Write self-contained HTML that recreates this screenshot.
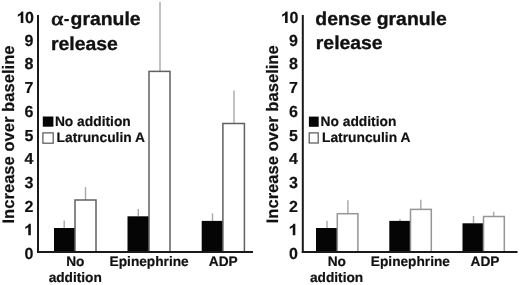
<!DOCTYPE html>
<html><head><meta charset="utf-8">
<style>
html,body{margin:0;padding:0;background:#fff;width:520px;height:285px;overflow:hidden}
svg{display:block;will-change:transform;text-rendering:geometricPrecision}
text{font-family:"Liberation Sans",sans-serif;font-weight:bold;fill:#111;stroke:#111;stroke-width:0.2px}
.tk{font-size:16px;text-anchor:end}
.ti{font-size:19.4px;stroke:#111;stroke-width:0.35px}
.yl{font-size:16.6px;text-anchor:middle}
.lg{font-size:13.8px}
.xl{font-size:13.7px;text-anchor:middle}
.ax{fill:#1a1a1a}
.bk{fill:#050505}
.wh{fill:#fff;stroke:#606060;stroke-width:1.5}
.wh2{stroke:#959595}
.er{stroke:#a8a8a8;stroke-width:1.4}
.er2{stroke:#a8a8a8}
.al{font-family:"Liberation Serif",serif;font-weight:normal;stroke:#111;stroke-width:0.8px}
</style></head>
<body>
<svg width="520" height="285" viewBox="0 0 520 285">
<defs><path id="one" d="M0.395 0L0.395 0.716L0.280 0.716C0.245 0.630 0.160 0.570 0.050 0.530L0.050 0.390C0.130 0.420 0.190 0.455 0.235 0.490L0.235 0Z" fill="#111"/></defs>
<!-- LEFT PANEL -->
<g>
<text class="yl" transform="translate(14,134.5) rotate(-90)">Increase over baseline</text>
<use href="#one" transform="translate(17,22.9) scale(16,-16)"/><text class="tk" x="33.9" y="22.9">0</text>
<text class="tk" x="33.4" y="45.7">9</text>
<text class="tk" x="33.4" y="69.4">8</text>
<text class="tk" x="33.4" y="93.1">7</text>
<text class="tk" x="33.4" y="116.8">6</text>
<text class="tk" x="33.4" y="140.5">5</text>
<text class="tk" x="33.4" y="164.2">4</text>
<text class="tk" x="33.4" y="187.8">3</text>
<text class="tk" x="33.4" y="211.5">2</text>
<use href="#one" transform="translate(24.5,235.2) scale(16,-16)"/>
<text class="tk" x="33.4" y="258.9">0</text>
<g transform="translate(51.2,25) scale(1.1,0.92)"><text class="al" x="0" y="0" style="font-size:21px">α</text></g>
<rect x="64.3" y="19.0" width="4.5" height="2.2" fill="#111"/>
<g transform="translate(0,24.9) scale(1,0.96)"><text class="ti" x="70.6" y="0">granule</text></g>
<g transform="translate(0,50) scale(1,0.96)"><text class="ti" x="51" y="0">release</text></g>
<rect class="bk" x="42.8" y="116.5" width="10.6" height="10.2"/>
<rect x="42.9" y="132.9" width="10.3" height="10.3" fill="#fff" stroke="#555" stroke-width="1.2"/>
<text class="lg" x="54.9" y="126.3">No addition</text>
<text class="lg" x="56.6" y="142">Latrunculin A</text>
<!-- bars -->
<line class="er" x1="64.2" y1="228" x2="64.2" y2="220.6"/>
<rect class="bk" x="54" y="228" width="21" height="24"/>
<line class="er" x1="85.5" y1="200" x2="85.5" y2="187"/>
<rect class="wh" x="75" y="200" width="21" height="52"/>
<line class="er" x1="138.3" y1="216.3" x2="138.3" y2="209"/>
<rect class="bk" x="127.5" y="216.3" width="21.5" height="35.7"/>
<line class="er" x1="160" y1="71.4" x2="160" y2="1.7"/>
<rect class="wh" x="149" y="71.4" width="21" height="180.6"/>
<line class="er" x1="212.5" y1="221" x2="212.5" y2="213.3"/>
<rect class="bk" x="201.7" y="220.9" width="21.3" height="31.1"/>
<line class="er" x1="234" y1="123.5" x2="234" y2="90.5"/>
<rect class="wh" x="222.9" y="123.5" width="21.5" height="128.5"/>
<!-- axes -->
<rect class="ax" x="37" y="15" width="2" height="238"/>
<rect class="ax" x="37" y="251" width="216" height="2"/>
<text class="xl" x="75.25" y="265.7">No</text>
<text class="xl" x="75.25" y="282.3">addition</text>
<text class="xl" x="149.15" y="265.6">Epinephrine</text>
<text class="xl" x="223.3" y="266.2">ADP</text>
</g>
<!-- RIGHT PANEL -->
<g>
<text class="yl" transform="translate(277.8,134.3) rotate(-90)">Increase over baseline</text>
<use href="#one" transform="translate(281.3,22.9) scale(16,-16)"/><text class="tk" x="298.4" y="22.9">0</text>
<text class="tk" x="297.9" y="45.7">9</text>
<text class="tk" x="297.9" y="69.4">8</text>
<text class="tk" x="297.9" y="93.1">7</text>
<text class="tk" x="297.9" y="116.8">6</text>
<text class="tk" x="297.9" y="140.5">5</text>
<text class="tk" x="297.9" y="164.2">4</text>
<text class="tk" x="297.9" y="187.8">3</text>
<text class="tk" x="297.9" y="211.5">2</text>
<use href="#one" transform="translate(289,235.2) scale(16,-16)"/>
<text class="tk" x="297.9" y="258.9">0</text>
<g transform="translate(0,25.4) scale(1,0.96)"><text class="ti" x="315.3" y="0">dense granule</text></g>
<g transform="translate(0,48.9) scale(1,0.96)"><text class="ti" x="315.8" y="0">release</text></g>
<rect class="bk" x="308.9" y="116.6" width="9.8" height="10.2"/>
<rect x="309.2" y="132.9" width="9" height="10.1" fill="#fff" stroke="#555" stroke-width="1.2"/>
<text class="lg" x="320.5" y="126.3">No addition</text>
<text class="lg" x="322" y="142">Latrunculin A</text>
<!-- bars -->
<line class="er" x1="327" y1="228" x2="327" y2="220.8"/>
<rect class="bk" x="316" y="228" width="21.3" height="24"/>
<line class="er er2" x1="347.9" y1="213.7" x2="347.9" y2="200.3"/>
<rect class="wh wh2" x="337.3" y="213.7" width="20.6" height="38.3"/>
<line class="er" x1="400" y1="220.9" x2="400" y2="218.9"/>
<rect class="bk" x="389.3" y="220.9" width="21.2" height="31.1"/>
<line class="er er2" x1="420.8" y1="209.4" x2="420.8" y2="199.8"/>
<rect class="wh wh2" x="410.5" y="209.4" width="20.8" height="42.6"/>
<line class="er" x1="473.5" y1="223.3" x2="473.5" y2="216"/>
<rect class="bk" x="462.5" y="223.3" width="21" height="28.7"/>
<line class="er er2" x1="493.7" y1="216.5" x2="493.7" y2="211.8"/>
<rect class="wh wh2" x="483.5" y="216.5" width="20.8" height="35.5"/>
<!-- axes -->
<rect class="ax" x="301.8" y="15" width="2" height="238"/>
<rect class="ax" x="301.8" y="251" width="215.7" height="2"/>
<text class="xl" x="336.8" y="265.7">No</text>
<text class="xl" x="336.6" y="282.3">addition</text>
<text class="xl" x="410.4" y="265.6">Epinephrine</text>
<text class="xl" x="485" y="266.2">ADP</text>
</g>
</svg>
</body></html>
